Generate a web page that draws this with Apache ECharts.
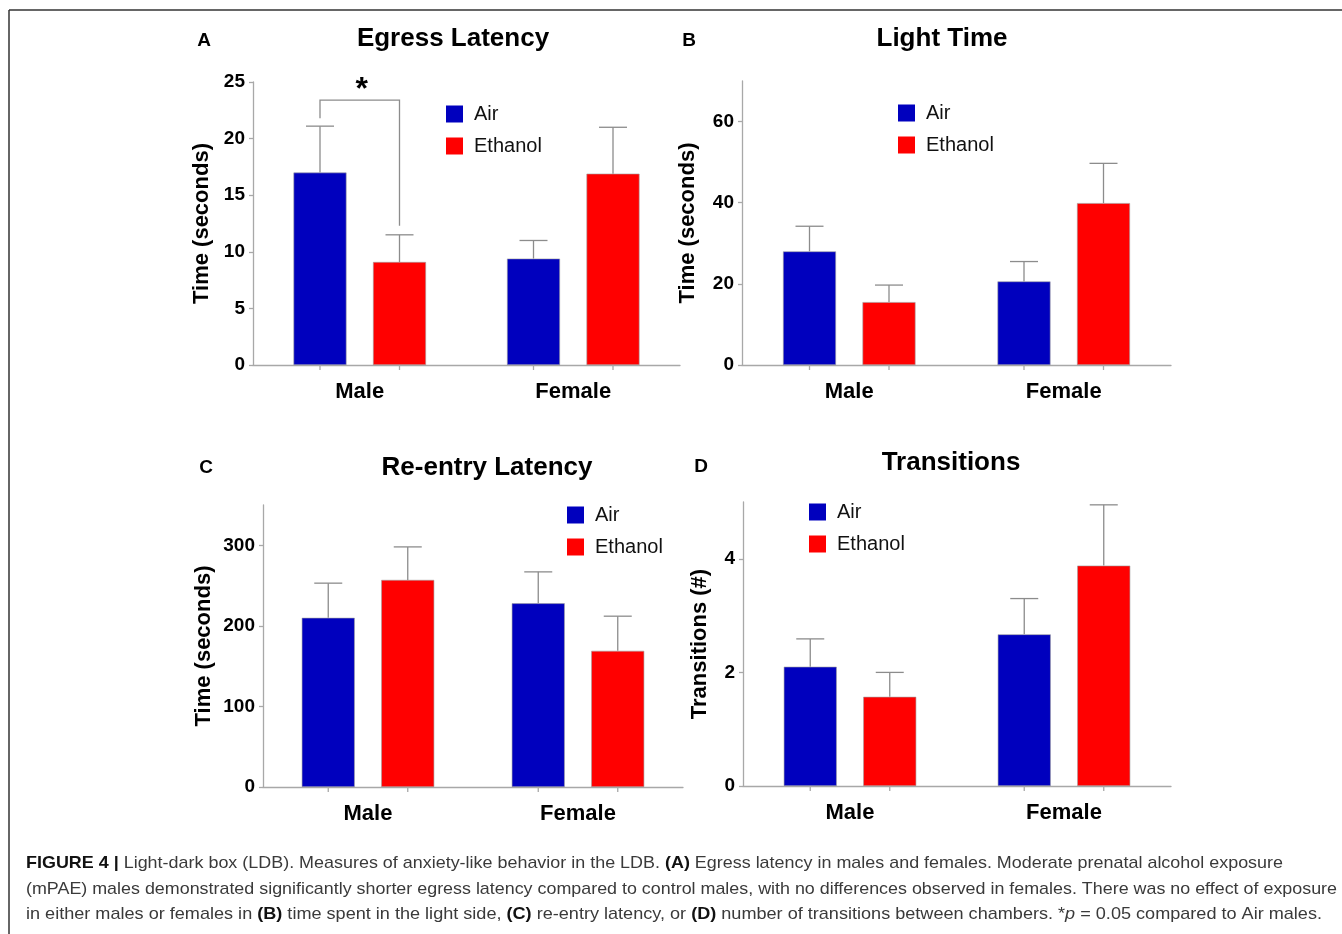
<!DOCTYPE html>
<html>
<head>
<meta charset="utf-8">
<script src="https://cdn.jsdelivr.net/npm/echarts@6/dist/echarts.min.js"></script>
<style>
html,body{margin:0;padding:0;background:#fff;}
#chart{width:1342px;height:934px;}
</style>
</head>
<body>
<div id="chart"></div>
<script>
// ---------- data ----------
const categories = ['Male', 'Female'];
const seriesNames = ['Air', 'Ethanol'];

// A: Egress Latency (s)
const egressAir = [17.0, 9.4];
const egressAirSem = [4.1, 1.6];
const egressEth = [9.1, 16.9];
const egressEthSem = [2.4, 4.1];
const egressTicks = [0, 5, 10, 15, 20, 25];

// B: Light Time (s)
const lightAir = [28.0, 20.6];
const lightAirSem = [6.2, 4.9];
const lightEth = [15.5, 39.9];
const lightEthSem = [4.2, 9.8];
const lightTicks = [0, 20, 40, 60];

// C: Re-entry Latency (s)
const reentryAir = [210, 228];
const reentryAirSem = [43, 39];
const reentryEth = [257, 169];
const reentryEthSem = [41, 43];
const reentryTicks = [0, 100, 200, 300];

// D: Transitions (#)
const transAir = [2.10, 2.67];
const transAirSem = [0.49, 0.63];
const transEth = [1.57, 3.88];
const transEthSem = [0.43, 1.07];
const transTicks = [0, 2, 4];

// significance bracket in A (bracket height, left end, right end), between Male Air and Male Ethanol
const sigBracket = [[0, 23.4, 21.8, 12.3]];
const sigLabel = '*';

const captionLines = [
  '{b|FIGURE 4 |} Light-dark box (LDB). Measures of anxiety-like behavior in the LDB. {b|(A)} Egress latency in males and females. Moderate prenatal alcohol exposure',
  '(mPAE) males demonstrated significantly shorter egress latency compared to control males, with no differences observed in females. There was no effect of exposure',
  'in either males or females in {b|(B)} time spent in the light side, {b|(C)} re-entry latency, or {b|(D)} number of transitions between chambers. *{i|p} = 0.05 compared to Air males.'
];

// ---------- style / layout ----------
const FONT = 'Liberation Sans, Arial, Helvetica, sans-serif';
const BLUE = '#0000BE';
const RED = '#FF0000';
const AXIS = '#a8a8a8';
const ERR = '#8c8c8c';
const BAR_W = 53;
const GAP = 0.5;

const panels = [
  {letter:'A', title:'Egress Latency', yName:'Time (seconds)', air:egressAir, airSem:egressAirSem, eth:egressEth, ethSem:egressEthSem, ticks:egressTicks, max:25, interval:5,
   grid:{left:253, top:82, width:427, height:283}, nameGap:40, legend:{left:446, top:104}, titlePos:[453,39], letterPos:[204,41]},
  {letter:'B', title:'Light Time', yName:'Time (seconds)', air:lightAir, airSem:lightAirSem, eth:lightEth, ethSem:lightEthSem, ticks:lightTicks, max:70, interval:10,
   grid:{left:742, top:81, width:429, height:284}, nameGap:43, legend:{left:898, top:103}, titlePos:[942,39], letterPos:[689,41]},
  {letter:'C', title:'Re-entry Latency', yName:'Time (seconds)', air:reentryAir, airSem:reentryAirSem, eth:reentryEth, ethSem:reentryEthSem, ticks:reentryTicks, max:350, interval:50,
   grid:{left:263, top:505, width:420, height:282}, nameGap:48, legend:{left:567, top:505}, titlePos:[487,468], letterPos:[206,468]},
  {letter:'D', title:'Transitions', yName:'Transitions (#)', air:transAir, airSem:transAirSem, eth:transEth, ethSem:transEthSem, ticks:transTicks, max:5, interval:1,
   grid:{left:743, top:502, width:428, height:284}, nameGap:32, legend:{left:809, top:502}, titlePos:[951,463], letterPos:[701,467]}
];

function barOffset(s) { return (s - 0.5) * BAR_W * (1 + GAP); }

function errRender(params, api) {
  const cat = api.value(0), s = api.value(1), v = api.value(2), e = api.value(3);
  const base = api.coord([cat, 0]);
  const cx = base[0] + barOffset(s);
  const yTop = api.coord([cat, v])[1];
  const yErr = api.coord([cat, v + e])[1];
  const st = {stroke: ERR, lineWidth: 1.3};
  return {type:'group', children:[
    {type:'line', shape:{x1:cx, y1:yTop, x2:cx, y2:yErr}, style:st},
    {type:'line', shape:{x1:cx-14, y1:yErr, x2:cx+14, y2:yErr}, style:st},
    {type:'line', shape:{x1:cx, y1:base[1], x2:cx, y2:base[1]+5}, style:{stroke:AXIS, lineWidth:1.3}}
  ]};
}

function sigRender(params, api) {
  const cat = api.value(0), h = api.value(1), l = api.value(2), r = api.value(3);
  const x0 = api.coord([cat, 0])[0];
  const xl = x0 + barOffset(0), xr = x0 + barOffset(1);
  const yh = api.coord([cat, h])[1], yl = api.coord([cat, l])[1], yr = api.coord([cat, r])[1];
  const st = {stroke: ERR, lineWidth: 1.3, fill: null};
  return {type:'group', children:[
    {type:'polyline', shape:{points:[[xl, yl],[xl, yh],[xr, yh],[xr, yr]]}, style:st},
    {type:'text', x:(xl+xr)/2 + 2, y:yh + 6, style:{text:sigLabel, fontSize:32, fontWeight:'bold', fontFamily:FONT, fill:'#000', align:'center', verticalAlign:'bottom'}}
  ]};
}

const grids = [], xAxes = [], yAxes = [], series = [], legends = [], graphics = [];

panels.forEach((p, i) => {
  grids.push(Object.assign({containLabel:false, outerBoundsMode:'none'}, p.grid));
  xAxes.push({
    type:'category', gridIndex:i, data:categories,
    axisLine:{show:true, lineStyle:{color:AXIS, width:1.3}},
    axisTick:{show:false},
    axisLabel:{color:'#000', fontSize:22, fontWeight:'bold', fontFamily:FONT, margin:16}
  });
  yAxes.push({
    type:'value', gridIndex:i, min:0, max:p.max, interval:p.interval,
    name:p.yName, nameLocation:'middle', nameGap:p.nameGap,
    nameTextStyle:{color:'#000', fontSize:22, fontWeight:'bold', fontFamily:FONT},
    axisLine:{show:true, lineStyle:{color:AXIS, width:1.3}},
    axisTick:{show:true, length:4, lineStyle:{color:AXIS, width:1.3}, customValues:p.ticks},
    axisLabel:{color:'#000', fontSize:19, fontWeight:'bold', fontFamily:FONT, margin:8, customValues:p.ticks},
    splitLine:{show:false}
  });
  series.push({
    type:'bar', name:'Air', xAxisIndex:i, yAxisIndex:i, data:p.air, barWidth:BAR_W, barGap:(GAP*100)+'%',
    itemStyle:{color:BLUE, borderColor:'#a0a0a0', borderWidth:0.6}, emphasis:{disabled:true}
  });
  series.push({
    type:'bar', name:'Ethanol', xAxisIndex:i, yAxisIndex:i, data:p.eth, barWidth:BAR_W, barGap:(GAP*100)+'%',
    itemStyle:{color:RED, borderColor:'#a0a0a0', borderWidth:0.6}, emphasis:{disabled:true}
  });
  const errData = [];
  categories.forEach((c, k) => {
    errData.push([k, 0, p.air[k], p.airSem[k]]);
    errData.push([k, 1, p.eth[k], p.ethSem[k]]);
  });
  series.push({
    type:'custom', xAxisIndex:i, yAxisIndex:i, data:errData, renderItem:errRender,
    encode:{x:0, y:2}, z:3, silent:true
  });
  legends.push({
    left:p.legend.left, top:p.legend.top, orient:'vertical', data:seriesNames, padding:0,
    itemWidth:17, itemHeight:17, itemGap:12, icon:'rect', selectedMode:false,
    itemStyle:{borderWidth:0},
    textStyle:{fontSize:20, fontFamily:FONT, color:'#111', padding:[0,0,0,6]}
  });
  graphics.push({type:'text', x:p.titlePos[0], y:p.titlePos[1], style:{text:p.title, fontSize:26, fontWeight:'bold', fontFamily:FONT, fill:'#000', align:'center', verticalAlign:'middle'}});
  graphics.push({type:'text', x:p.letterPos[0], y:p.letterPos[1], style:{text:p.letter, fontSize:19, fontWeight:'bold', fontFamily:FONT, fill:'#000', align:'center', verticalAlign:'middle'}});
});

series.push({
  type:'custom', xAxisIndex:0, yAxisIndex:0, data:sigBracket, renderItem:sigRender,
  encode:{x:0, y:1}, z:4, silent:true
});

// border lines of figure frame
graphics.push({type:'line', shape:{x1:9, y1:10, x2:1342, y2:10}, style:{stroke:'#333', lineWidth:1.5}});
graphics.push({type:'line', shape:{x1:9, y1:10, x2:9, y2:934}, style:{stroke:'#333', lineWidth:1.5}});

// caption: measure to fit condensed widths
const CAP_SIZE = 17;
const capTargets = [1257, 1311, 1296];
const capY = [863, 889, 914];
const mc = document.createElement('canvas').getContext('2d');
function measureRich(str) {
  const re = /\{([a-z]+)\|([^}]*)\}/g;
  let w = 0, last = 0, m;
  const seg = (t, wt, it) => { mc.font = (it ? 'italic ' : '') + (wt ? 'bold ' : '') + CAP_SIZE + 'px ' + FONT; w += mc.measureText(t).width; };
  while ((m = re.exec(str))) {
    seg(str.slice(last, m.index), false, false);
    seg(m[2], m[1] === 'b', m[1] === 'i');
    last = re.lastIndex;
  }
  seg(str.slice(last), false, false);
  return w;
}
captionLines.forEach((line, k) => {
  const w = measureRich(line);
  graphics.push({
    type:'text', x:26, y:capY[k], scaleX: capTargets[k] / w, scaleY: 1,
    style:{text:line, fontSize:CAP_SIZE, fontFamily:FONT, fill:'#3a3a3a', align:'left', verticalAlign:'middle',
      rich:{b:{fontWeight:'bold', fontSize:CAP_SIZE, fontFamily:FONT, fill:'#111'}, i:{fontStyle:'italic', fontSize:CAP_SIZE, fontFamily:FONT, fill:'#3a3a3a'}}}
  });
});

const chart = echarts.init(document.getElementById('chart'), null, {renderer:'canvas'});
chart.setOption({
  backgroundColor:'#ffffff',
  animation:false,
  grid:grids, xAxis:xAxes, yAxis:yAxes, series:series, legend:legends,
  graphic:graphics
});
</script>
</body>
</html>
